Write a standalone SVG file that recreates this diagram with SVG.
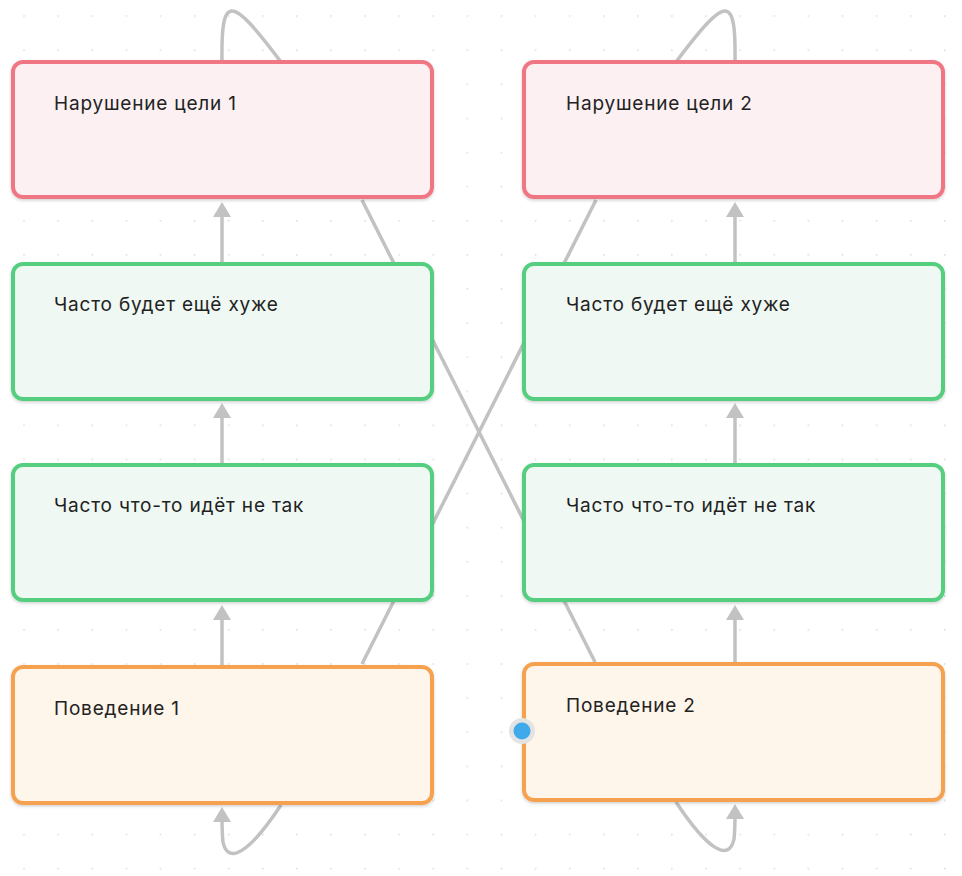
<svg xmlns="http://www.w3.org/2000/svg" width="962" height="876" viewBox="0 0 962 876">
<defs>
<style>
.box{stroke-width:4;filter:url(#sh)}
.red{fill:#fcf0f2;stroke:#f07684}
.green{fill:#eff8f2;stroke:#55ce80}
.orange{fill:#fef5eb;stroke:#f5a14f}
.lbl{font-family:Inter,"Noto Sans","DejaVu Sans",sans-serif;font-size:19px;letter-spacing:0.8px;fill:#222}
.con{fill:none;stroke:#c2c2c2;stroke-width:3.5}
</style>
<pattern id="grid" x="23.3" y="15.3" width="34.1" height="34.1" patternUnits="userSpaceOnUse">
<circle cx="0.7" cy="0.7" r="0.9" fill="#dcdcdc"/>
</pattern>
<marker id="ah" markerUnits="userSpaceOnUse" markerWidth="16" markerHeight="20" viewBox="0 0 16 20" refX="7" refY="10" orient="auto">
<path d="M0,1 L15,10 L0,19 z" fill="#c2c2c2"/>
</marker>
<filter id="sh" x="-5%" y="-5%" width="110%" height="115%">
<feDropShadow dx="0" dy="1.5" stdDeviation="1.5" flood-color="#000" flood-opacity="0.18"/>
</filter>
</defs>
<rect width="962" height="876" fill="#fff"/>
<rect width="962" height="876" fill="url(#grid)"/>
<g id="connectors">
<line class="con" x1="362" y1="200" x2="595" y2="662"/>
<line class="con" x1="362" y1="664" x2="596" y2="200"/>
<path class="con" d="M222,62 C221,-6 230,-6 281,62"/>
<path class="con" d="M735,62 C736,-6 727,-6 676,62"/>
<line class="con" x1="222" y1="262" x2="222" y2="210" marker-end="url(#ah)"/>
<line class="con" x1="222" y1="463" x2="222" y2="411" marker-end="url(#ah)"/>
<line class="con" x1="222" y1="665" x2="222" y2="613" marker-end="url(#ah)"/>
<line class="con" x1="735" y1="262" x2="735" y2="210" marker-end="url(#ah)"/>
<line class="con" x1="735" y1="463" x2="735" y2="411" marker-end="url(#ah)"/>
<line class="con" x1="735" y1="662" x2="735" y2="613" marker-end="url(#ah)"/>
<path class="con" d="M281,805 C250,852 228,866 223,842 C222,834 222,824 222,815" marker-end="url(#ah)"/>
<path class="con" d="M676,802 C707,849 729,863 734,839 C735,831 735,821 735,812" marker-end="url(#ah)"/>
</g>
<g id="n1"><rect class="box red" x="13" y="62" width="419" height="135" rx="10"/><text class="lbl" x="54" y="110">Нарушение цели 1</text></g>
<g id="n2"><rect class="box red" x="524" y="62" width="419" height="135" rx="10"/><text class="lbl" x="566" y="110">Нарушение цели 2</text></g>
<g id="n3"><rect class="box green" x="13" y="264" width="419" height="135" rx="10"/><text class="lbl" x="54" y="311">Часто будет ещё хуже</text></g>
<g id="n4"><rect class="box green" x="524" y="264" width="419" height="135" rx="10"/><text class="lbl" x="566" y="311">Часто будет ещё хуже</text></g>
<g id="n5"><rect class="box green" x="13" y="465" width="419" height="135" rx="10"/><text class="lbl" x="54" y="512">Часто что-то идёт не так</text></g>
<g id="n6"><rect class="box green" x="524" y="465" width="419" height="135" rx="10"/><text class="lbl" x="566" y="512">Часто что-то идёт не так</text></g>
<g id="n7"><rect class="box orange" x="13" y="667" width="419" height="136" rx="10"/><text class="lbl" x="54" y="715">Поведение 1</text></g>
<g id="n8"><rect class="box orange" x="524" y="664" width="419" height="136" rx="10"/><text class="lbl" x="566" y="712">Поведение 2</text></g>
<g id="handle"><circle cx="522" cy="731" r="13" fill="#e3e3e3"/><circle cx="522" cy="731" r="8.5" fill="#3fa9ea"/></g>
</svg>
